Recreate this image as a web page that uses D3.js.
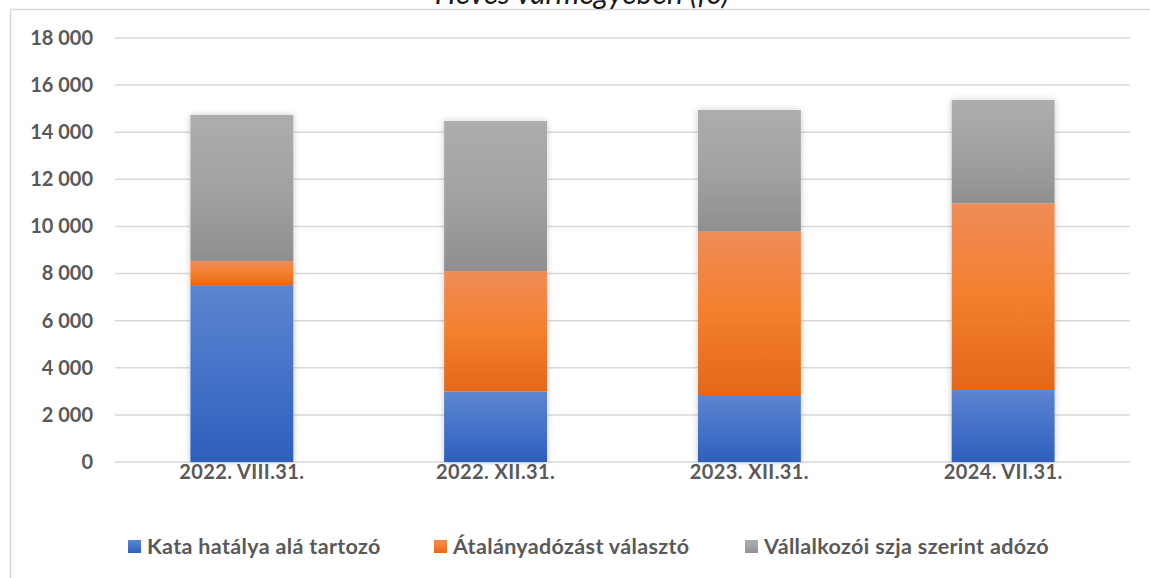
<!DOCTYPE html>
<html>
<head>
<meta charset="utf-8">
<script src="https://cdn.jsdelivr.net/npm/d3@7"></script>
<style>
  body { margin: 0; background: #fff; }
  svg { display: block; font-family: Lato, "Open Sans", sans-serif; }
</style>
</head>
<body>
<div id="chart"></div>
<script>
// data
const categories = ["2022. VIII.31.", "2022. XII.31.", "2023. XII.31.", "2024. VII.31."]
const seriesNames = ["Kata hatálya alá tartozó", "Átalányadózást választó", "Vállalkozói szja szerint adózó"]
const kata = [7510, 2985, 2845, 3055]
const atalany = [1020, 5120, 6930, 7925]
const vallalkozoi = [6200, 6370, 5170, 4390]
const yTicks = [0, 2000, 4000, 6000, 8000, 10000, 12000, 14000, 16000, 18000]
const title = "Heves vármegyében (fő)"

const W = 1150, H = 578
const margin = {top: 38, right: 20, bottom: 116, left: 115}

const svg = d3.select("#chart").append("svg")
  .attr("width", W).attr("height", H)

// gradients, one per series (lighter on top, like the excel fill)
const grads = [
  ["#5d85d0", "#4573c9", "#2d5fbc"],
  ["#ef8c58", "#f47f2d", "#e3681a"],
  ["#adadad", "#a2a2a2", "#8f8f8f"]
]
const defs = svg.append("defs")
grads.forEach((g, i) => {
  const lg = defs.append("linearGradient").attr("id", "g" + i)
    .attr("x1", 0).attr("y1", 0).attr("x2", 0).attr("y2", 1)
  lg.append("stop").attr("offset", "0%").attr("stop-color", g[0])
  lg.append("stop").attr("offset", "50%").attr("stop-color", g[1])
  lg.append("stop").attr("offset", "100%").attr("stop-color", g[2])
})
const f = defs.append("filter").attr("id", "shadow")
  .attr("x", "-20%").attr("y", "-10%").attr("width", "140%").attr("height", "120%")
f.append("feDropShadow").attr("dx", 0).attr("dy", 0).attr("stdDeviation", 3)
  .attr("flood-color", "#000").attr("flood-opacity", 0.22)

// outer chart border, cut off at top like the reference
svg.append("rect")
  .attr("x", 10.5).attr("y", 9.5).attr("width", W + 10).attr("height", H + 10)
  .attr("fill", "none").attr("stroke", "#d9d9d9").attr("stroke-width", 1.5)

svg.append("text")
  .attr("x", 582).attr("y", 4)
  .attr("text-anchor", "middle")
  .style("font-style", "italic").style("font-size", "30px")
  .attr("fill", "#1a1a1a")
  .text(title)

const plotW = 1130 - margin.left
const x = d3.scaleBand().domain(categories)
  .range([margin.left, margin.left + plotW])
  .paddingInner(0.594).paddingOuter(0.297)

const y = d3.scaleLinear().domain([0, 18000]).range([462, 38])

// grid
svg.append("g")
  .selectAll("line").data(yTicks).enter().append("line")
  .attr("x1", margin.left).attr("x2", margin.left + plotW)
  .attr("y1", d => y(d)).attr("y2", d => y(d))
  .attr("stroke", "#d9d9d9").attr("stroke-width", 1.5)

const yAxis = svg.append("g")
  .attr("transform", "translate(" + 93 + ",0)")
  .call(d3.axisLeft(y).tickValues(yTicks).tickSize(0).tickPadding(0)
    .tickFormat(d => d3.format(",")(d).replace(",", " ")))
yAxis.select(".domain").remove()
yAxis.selectAll("text")
  .attr("fill", "#595959").style("font-size", "20px").style("font-weight", "bold")
  .style("font-family", "Lato, sans-serif")

// stacked bars
const rows = categories.map((c, i) => ({cat: c, s0: kata[i], s1: atalany[i], s2: vallalkozoi[i]}))
const stack = d3.stack().keys(["s0", "s1", "s2"])(rows)

// shadow behind the whole bar
svg.append("g").selectAll("rect").data(rows).enter().append("rect")
  .attr("x", d => x(d.cat)).attr("width", x.bandwidth())
  .attr("y", d => y(d.s0 + d.s1 + d.s2))
  .attr("height", d => y(0) - y(d.s0 + d.s1 + d.s2))
  .attr("fill", "#fff").attr("filter", "url(#shadow)")

svg.append("g").selectAll("g").data(stack).enter().append("g")
  .attr("fill", (d, i) => "url(#g" + i + ")")
  .selectAll("rect").data(d => d).enter().append("rect")
  .attr("x", d => x(d.data.cat))
  .attr("width", x.bandwidth())
  .attr("y", d => y(d[1]))
  .attr("height", d => y(d[0]) - y(d[1]))

// x axis
const xAxis = svg.append("g")
  .attr("transform", "translate(0," + 462 + ")")
  .call(d3.axisBottom(x).tickSize(0).tickPadding(0))
xAxis.select(".domain").remove()
xAxis.selectAll("text")
  .attr("dy", "0")
  .attr("y", 17)
  .attr("fill", "#595959").style("font-size", "20px").style("font-weight", "bold")
  .style("letter-spacing", "0.4px")
  .style("font-family", "Lato, sans-serif")

// legend
const legendX = [128, 434, 745]
const legend = svg.append("g").selectAll("g").data(seriesNames).enter().append("g")
  .attr("transform", (d, i) => "translate(" + legendX[i] + ",540)")
legend.append("rect").attr("width", 13).attr("height", 13)
  .attr("fill", (d, i) => "url(#g" + i + ")")
legend.append("text").attr("x", 19).attr("y", 14)
  .attr("fill", "#595959").style("font-size", "21.5px").style("font-weight", "bold")
  .style("letter-spacing", "0.35px")
  .text(d => d)
</script>
</body>
</html>
